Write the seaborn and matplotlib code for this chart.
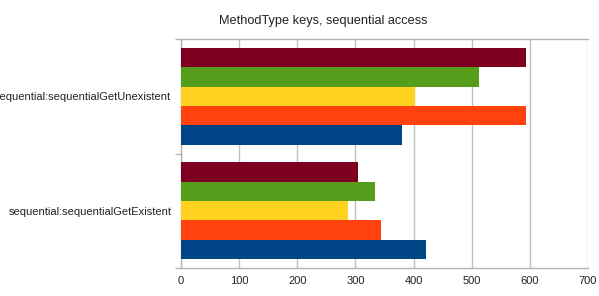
import matplotlib
matplotlib.use("Agg")
import matplotlib.pyplot as plt
import seaborn as sns
import pandas as pd
import numpy as np

categories = ["sequential:sequentialGetUnexistent", "sequential:sequentialGetExistent"]
series = ["Series 1", "Series 2", "Series 3", "Series 4", "Series 5"]
values = {
    "Series 1": [380, 421],
    "Series 2": [593, 344],
    "Series 3": [402, 287],
    "Series 4": [512, 333],
    "Series 5": [593, 304],
}
colors = ["#004586", "#ff420e", "#ffd320", "#579d1c", "#7e0021"]
x_ticks = [0, 100, 200, 300, 400, 500, 600, 700]
title = "MethodType keys, sequential access"

rows = []
for s in series:
    for c, v in zip(categories, values[s]):
        rows.append({"category": c, "series": s, "value": v})
df = pd.DataFrame(rows)

sns.set_theme(style="white")
plt.rcParams["font.family"] = ["Liberation Sans", "DejaVu Sans"]

fig = plt.figure(figsize=(5.99, 2.96), dpi=100)
ax = fig.add_axes([181 / 599, 28 / 296, (588 - 181) / 599, (268 - 39) / 296])

hue_order = series[::-1]
palette = dict(zip(series, colors))
sns.barplot(data=df, y="category", x="value", hue="series", order=categories,
            hue_order=hue_order, palette=palette, orient="h", width=0.85,
            saturation=1, ax=ax, legend=False, zorder=3)
for p in ax.patches:
    p.set_linewidth(0)

ax.set_xlim(0, 700)
ax.set_ylim(1.5, -0.5)
ax.set_xticks(x_ticks)
ax.set_xticklabels([str(t) for t in x_ticks], fontsize=8, color="#222222")
ax.tick_params(axis="x", length=4, width=1, color="#b3b3b3", pad=2)
ax.set_yticks([0, 1])
ax.set_yticklabels(categories, fontsize=8, color="#222222")
ax.tick_params(axis="y", which="major", length=0, pad=7)
ax.set_yticks([-0.5, 0.5, 1.5], minor=True)
ax.tick_params(axis="y", which="minor", left=True, length=4, width=1, color="#b3b3b3")
ax.xaxis.grid(True, color="#c0c0c0", linewidth=1, zorder=0)
ax.set_axisbelow(True)
for side in ["left", "bottom", "top"]:
    ax.spines[side].set_color("#b3b3b3")
    ax.spines[side].set_linewidth(1)
ax.spines["right"].set_visible(False)
ax.set_xlabel("")
ax.set_ylabel("")
fig.text(323 / 599, 1 - 21 / 296, title, ha="center", va="center",
         fontsize=9.2, color="#222222")

fig.savefig("out.png", dpi=100)
